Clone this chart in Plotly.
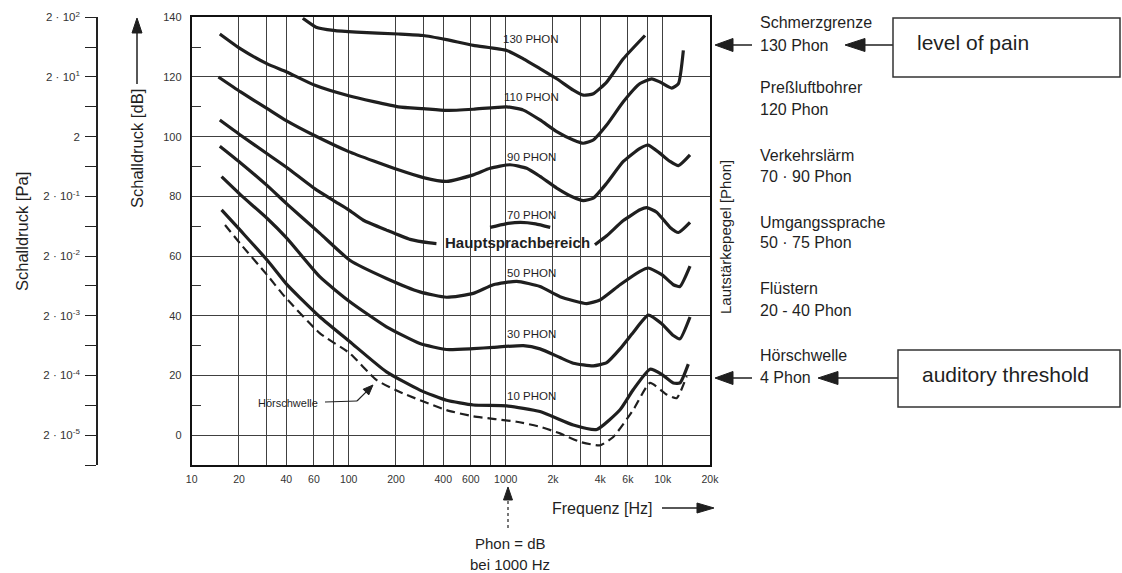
import math
import numpy as np
import plotly.graph_objects as go

# ---------------- data ----------------
f130 = [51, 62, 80, 112, 207, 299, 420, 622, 1014, 1295, 1653, 2113, 2694, 3119, 3614, 4395, 5610, 7710]
db130 = [139.7, 136.7, 135.6, 135.0, 134.4, 133.9, 132.5, 130.6, 128.9, 126.1, 122.8, 119.4, 115.6, 113.9, 114.4, 118.3, 126.1, 133.9]

f110 = [15.1, 20.5, 30.3, 40.3, 61, 100, 207, 299, 420, 622, 1014, 1295, 1653, 2113, 2694, 3119, 3614, 4395, 5610, 7166, 8510, 9620, 11400, 12590, 13530]
db110 = [134.4, 129.4, 124.4, 121.7, 117.2, 113.7, 110.0, 109.4, 108.8, 109.2, 110.0, 108.9, 105.6, 101.7, 98.9, 97.8, 98.9, 103.9, 111.7, 117.8, 119.4, 118.3, 116.3, 117.8, 128.9]

f90 = [14.8, 20.5, 30.3, 40.3, 61, 100, 207, 299, 420, 622, 795, 1064, 1360, 1653, 2113, 2694, 3119, 3614, 4395, 5610, 7166, 8090, 9620, 11140, 12590, 14920]
db90 = [120.0, 115.0, 109.4, 105.3, 100.3, 95.0, 88.9, 86.3, 85.0, 87.2, 89.4, 90.6, 89.4, 86.7, 82.8, 79.7, 78.6, 79.4, 84.4, 91.7, 96.1, 97.2, 94.4, 91.7, 90.3, 93.9]

# 70 phon: partly hidden behind the "Hauptsprachbereich" label
f70 = [15.1, 20.5, 30.4, 40.3, 61, 80, 100, 124, 174, 246, 330, 362, None, 795, 1000, 1240, 1550, 1920, None, 3700, 4395, 5610, 7166, 7900, 9155, 11140, 12590, 14920]
db70 = [105.6, 100.5, 94.2, 89.7, 82.5, 78.6, 75.5, 72.0, 68.7, 65.6, 64.4, 64.2, None, 69.6, 70.8, 71.3, 70.8, 69.6, None, 63.8, 66.8, 71.9, 75.5, 76.2, 74.7, 69.6, 67.9, 71.3]

f50 = [15.1, 20.5, 30.4, 40.3, 65.6, 101.7, 174, 284, 420, 622, 834, 1175, 1653, 2217, 3280, 3983, 5346, 7166, 8090, 9860, 11680, 12880, 14920]
db50 = [96.8, 91.2, 83.5, 77.5, 67.6, 58.6, 52.5, 48.0, 46.2, 47.5, 50.4, 51.5, 49.8, 46.4, 44.1, 45.3, 50.4, 54.9, 56.0, 53.8, 50.4, 49.8, 56.6]

f30 = [15.5, 20.5, 30.4, 40.3, 65.6, 101.7, 174, 284, 420, 622, 834, 1295, 1653, 2217, 2694, 3614, 4395, 5346, 6500, 8090, 9860, 11680, 12880, 14920]
db30 = [86.6, 80.5, 72.5, 66.0, 53.0, 44.7, 36.3, 30.7, 28.7, 29.0, 29.4, 30.0, 28.9, 26.0, 24.1, 23.2, 24.3, 28.9, 34.5, 40.2, 37.3, 33.4, 32.3, 39.6]

f10 = [15.5, 20.5, 30.4, 40.3, 49, 65.6, 101.7, 174, 284, 420, 622, 1014, 1653, 2694, 3800, 5346, 6500, 8300, 9860, 11680, 12880, 14550]
db10 = [75.5, 68.5, 58.5, 50.5, 46.0, 39.6, 31.3, 21.2, 15.1, 11.7, 10.1, 9.8, 7.9, 3.4, 1.9, 8.5, 15.3, 22.1, 20.4, 17.5, 17.5, 23.8]

# Hörschwelle (auditory threshold), dashed
f_thr = [16.3, 20.5, 30.4, 39.3, 65.6, 101.7, 150, 222, 420, 622, 1175, 1653, 2217, 3000, 3983, 4842, 6500, 8300, 10590, 12270, 14220]
db_thr = [70.4, 64.0, 53.5, 46.3, 34.1, 27.4, 18.5, 14.0, 8.4, 6.3, 4.5, 2.8, 0.6, -2.3, -3.4, -0.6, 8.5, 17.5, 13.6, 12.4, 19.8]

curve_names = ["130 PHON", "110 PHON", "90 PHON", "70 PHON", "50 PHON", "30 PHON", "10 PHON"]
curve_freqs = [f130, f110, f90, f70, f50, f30, f10]
curve_dbs = [db130, db110, db90, db70, db50, db30, db10]
label_db = [132.8, 113.3, 93.3, 73.6, 54.3, 34.0, 13.2]

freq_ticks = [10, 20, 40, 60, 100, 200, 400, 600, 1000, 2000, 4000, 6000, 10000, 20000]
freq_labels = ['10', '20', '40', '60', '100', '200', '400', '600', '1000', '2k', '4k', '6k', '10k', '20k']
freq_extra_grid = [30, 80, 300, 800, 3000, 8000]

db_ticks = [0, 20, 40, 60, 80, 100, 120, 140]
db_minor = [10, 30, 50, 70, 90, 110, 130]
pa_ticks = [0, 20, 40, 60, 80, 100, 120, 140]
pa_labels = ['2 · 10<sup>-5</sup>', '2 · 10<sup>-4</sup>', '2 · 10<sup>-3</sup>', '2 · 10<sup>-2</sup>',
             '2 · 10<sup>-1</sup>', '2', '2 · 10<sup>1</sup>', '2 · 10<sup>2</sup>']
pa_minor = [-10, 10, 30, 50, 70, 90, 110, 130]

right_texts = [("Schmerzgrenze", 23), ("130 Phon", 45), ("Preßluftbohrer", 88), ("120 Phon", 110),
               ("Verkehrslärm", 155), ("70 · 90 Phon", 177), ("Umgangssprache", 222), ("50 · 75 Phon", 243),
               ("Flüstern", 288), ("20 - 40 Phon", 310), ("Hörschwelle", 355), ("4 Phon", 377)]

# ---------------- layout geometry (pixels) ----------------
W, H = 1122, 573
X0, X1 = 191.7, 710.0
Y0, Y1 = 17.3, 465.0
FONT = "Liberation Sans, Arial, sans-serif"
INK = "#1f1f1f"
GRID = "#404040"


def px(x):
    return x / W


def py(y):
    return 1 - y / H


fig = go.Figure()
for f, d in zip(curve_freqs, curve_dbs):
    fig.add_trace(go.Scatter(x=f, y=d, mode='lines', connectgaps=False,
                             line=dict(color=INK, width=3.2, shape='spline', smoothing=0.5),
                             hoverinfo='skip', showlegend=False))
fig.add_trace(go.Scatter(x=f_thr, y=db_thr, mode='lines', yaxis='y2',
                         line=dict(color=INK, width=2.2, dash='9px,5px', shape='spline', smoothing=0.5),
                         hoverinfo='skip', showlegend=False))

ann = []
shapes = []


def txt(x, y, s, size=14, anchor='left', angle=0, color=INK):
    ann.append(dict(x=px(x), y=py(y), xref='paper', yref='paper', text=s, showarrow=False,
                    xanchor=anchor, yanchor='middle', textangle=angle,
                    font=dict(size=size, color=color, family=FONT)))


def arrow(tipx, tipy, tailx, taily, L=16, hw=6, width=1.5, dash='solid'):
    dx, dy = tipx - tailx, tipy - taily
    n = math.hypot(dx, dy)
    ux, uy = dx / n, dy / n
    bx, by = tipx - ux * L, tipy - uy * L
    nx, ny = -uy, ux
    shapes.append(dict(type='line', xref='paper', yref='paper', x0=px(tailx), y0=py(taily),
                       x1=px(bx), y1=py(by), line=dict(color=INK, width=width, dash=dash)))
    pts = [(tipx, tipy), (bx + nx * hw, by + ny * hw), (bx - nx * hw, by - ny * hw)]
    path = "M " + " L ".join(f"{px(a):.5f},{py(b):.5f}" for a, b in pts) + " Z"
    shapes.append(dict(type='path', xref='paper', yref='paper', path=path,
                       fillcolor=INK, line=dict(color=INK, width=1)))


# curve labels (data coordinates on the log axis)
for name, ldb in zip(curve_names, label_db):
    ann.append(dict(x=np.log10(1450), y=ldb, xref='x', yref='y', text=name, showarrow=False,
                    xanchor='center', yanchor='middle', font=dict(size=11.5, color=INK, family=FONT)))
ann.append(dict(x=np.log10(1186), y=64.5, xref='x', yref='y', text="<b>Hauptsprachbereich</b>",
                showarrow=False, xanchor='center', yanchor='middle',
                font=dict(size=15, color=INK, family=FONT)))
ann.append(dict(x=np.log10(40.8), y=10.8, xref='x', yref='y', text="Hörschwelle", showarrow=False,
                xanchor='center', yanchor='middle', font=dict(size=11, color=INK, family=FONT)))

# axis titles and side texts
txt(22, 232, "Schalldruck [Pa]", size=16.5, anchor='center', angle=-90)
txt(137, 149, "Schalldruck [dB]", size=16.5, anchor='center', angle=-90)
txt(725, 237, "Lautstärkepegel [Phon]", size=15, anchor='center', angle=-90)
txt(550, 508, "Frequenz [Hz]", size=16)
txt(510, 543, "Phon = dB", size=15, anchor='center')
txt(510, 564, "bei 1000 Hz", size=15, anchor='center')

for s, yy in right_texts:
    txt(758, yy, s, size=16)

txt(915, 43, "level of pain", size=21)
txt(920, 374, "auditory threshold", size=21)

# arrows (drawn as line + filled triangle)
arrow(137, 18, 137, 84, L=15, hw=5)
arrow(714, 508, 662, 508, L=17, hw=5)
arrow(508, 487, 508, 528, L=13, hw=4.5, width=1.2, dash='dot')
arrow(715, 45, 752, 45, L=18, hw=6.5)
arrow(845, 45, 893, 45, L=20, hw=6.5)
arrow(715, 378, 752, 378, L=18, hw=6.5)
arrow(818, 378, 898, 378, L=20, hw=6.5)
arrow(373, 385, 357, 401, L=10, hw=4, width=1.2)

shapes += [
    dict(type='rect', xref='paper', yref='paper', x0=px(893), x1=px(1120), y0=py(18), y1=py(77),
         line=dict(color='#333', width=1.5)),
    dict(type='rect', xref='paper', yref='paper', x0=px(898), x1=px(1120), y0=py(350), y1=py(407),
         line=dict(color='#333', width=1.5)),
    dict(type='line', xref='paper', yref='paper', x0=px(325), x1=px(357), y0=py(402), y1=py(401),
         line=dict(color=INK, width=1.2)),
]

fig.update_layout(
    width=W, height=H, autosize=False,
    margin=dict(l=0, r=0, t=0, b=0, pad=0),
    paper_bgcolor='white', plot_bgcolor='white', showlegend=False,
    font=dict(family=FONT, color=INK),
    xaxis=dict(type='log', domain=[px(X0), px(X1)], range=[1, np.log10(20000)], automargin=False,
               tickmode='array', tickvals=freq_ticks, ticktext=freq_labels,
               showgrid=True, gridcolor=GRID, gridwidth=1,
               showline=True, mirror=True, linecolor='#111', linewidth=2,
               ticks='', tickfont=dict(size=10.5, color='#333', family=FONT),
               ticklabelstandoff=3, zeroline=False,
               minor=dict(tickmode='array', tickvals=freq_extra_grid, ticks='',
                          showgrid=True, gridcolor=GRID, gridwidth=1)),
    yaxis=dict(domain=[py(Y1), py(Y0)], range=[-10, 140], automargin=False,
               tickmode='array', tickvals=db_ticks,
               showgrid=True, gridcolor=GRID, gridwidth=1,
               showline=True, mirror=True, linecolor='#111', linewidth=2,
               ticks='', tickfont=dict(size=11, color='#333', family=FONT),
               ticklabelstandoff=6, zeroline=False,
               minor=dict(tickmode='array', tickvals=db_minor, ticks='inside', ticklen=9,
                          tickcolor='#333', tickwidth=1, showgrid=False)),
    yaxis2=dict(overlaying='y', anchor='free', position=px(97), side='left', range=[-10, 140],
                automargin=False,
                tickmode='array', tickvals=pa_ticks, ticktext=pa_labels,
                ticks='outside', ticklen=11, tickcolor='#222', tickwidth=1.2,
                showline=True, linecolor='#222', linewidth=1.5, showgrid=False, zeroline=False,
                tickfont=dict(size=11.5, color='#333', family=FONT), ticklabelstandoff=3,
                minor=dict(tickmode='array', tickvals=pa_minor, ticks='outside', ticklen=11,
                           tickcolor='#222', tickwidth=1.2, showgrid=False)),
    annotations=ann,
    shapes=shapes,
)

# pin the figure to the top-left corner of the page (no body margin)
pin = ("document.body.style.margin='0';document.body.style.padding='0';"
       "var d=document.getElementById('{plot_id}');"
       "d.style.position='absolute';d.style.left='0px';d.style.top='0px';")
fig.write_html("out.html", post_script=pin, config={'displayModeBar': False})
